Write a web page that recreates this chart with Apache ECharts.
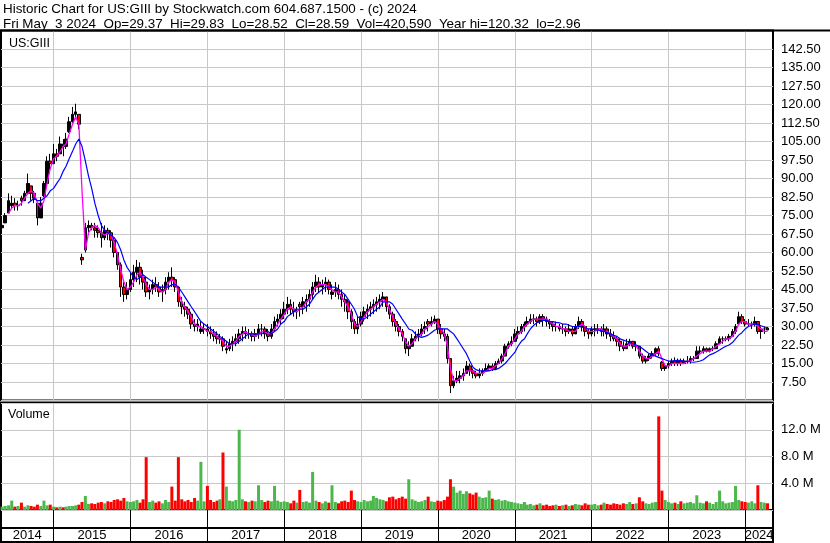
<!DOCTYPE html>
<html><head><meta charset="utf-8">
<script src="https://cdn.jsdelivr.net/npm/echarts@6/dist/echarts.min.js"></script>
<style>html,body{margin:0;padding:0;background:#fff}#c{width:830px;height:543px}</style>
</head><body><div id="c"></div><script>
// semi-monthly periods
const dates = [
'2014-05-01','2014-05-16','2014-06-01','2014-06-16','2014-07-01','2014-07-16','2014-08-01','2014-08-16','2014-09-01','2014-09-16','2014-10-01','2014-10-16','2014-11-01','2014-11-16','2014-12-01','2014-12-16',
'2015-01-01','2015-01-16','2015-02-01','2015-02-16','2015-03-01','2015-03-16','2015-04-01','2015-04-16','2015-05-01','2015-05-16','2015-06-01','2015-06-16','2015-07-01','2015-07-16','2015-08-01','2015-08-16','2015-09-01','2015-09-16','2015-10-01','2015-10-16','2015-11-01','2015-11-16','2015-12-01','2015-12-16',
'2016-01-01','2016-01-16','2016-02-01','2016-02-16','2016-03-01','2016-03-16','2016-04-01','2016-04-16','2016-05-01','2016-05-16','2016-06-01','2016-06-16','2016-07-01','2016-07-16','2016-08-01','2016-08-16','2016-09-01','2016-09-16','2016-10-01','2016-10-16','2016-11-01','2016-11-16','2016-12-01','2016-12-16',
'2017-01-01','2017-01-16','2017-02-01','2017-02-16','2017-03-01','2017-03-16','2017-04-01','2017-04-16','2017-05-01','2017-05-16','2017-06-01','2017-06-16','2017-07-01','2017-07-16','2017-08-01','2017-08-16','2017-09-01','2017-09-16','2017-10-01','2017-10-16','2017-11-01','2017-11-16','2017-12-01','2017-12-16',
'2018-01-01','2018-01-16','2018-02-01','2018-02-16','2018-03-01','2018-03-16','2018-04-01','2018-04-16','2018-05-01','2018-05-16','2018-06-01','2018-06-16','2018-07-01','2018-07-16','2018-08-01','2018-08-16','2018-09-01','2018-09-16','2018-10-01','2018-10-16','2018-11-01','2018-11-16','2018-12-01','2018-12-16',
'2019-01-01','2019-01-16','2019-02-01','2019-02-16','2019-03-01','2019-03-16','2019-04-01','2019-04-16','2019-05-01','2019-05-16','2019-06-01','2019-06-16','2019-07-01','2019-07-16','2019-08-01','2019-08-16','2019-09-01','2019-09-16','2019-10-01','2019-10-16','2019-11-01','2019-11-16','2019-12-01','2019-12-16',
'2020-01-01','2020-01-16','2020-02-01','2020-02-16','2020-03-01','2020-03-16','2020-04-01','2020-04-16','2020-05-01','2020-05-16','2020-06-01','2020-06-16','2020-07-01','2020-07-16','2020-08-01','2020-08-16','2020-09-01','2020-09-16','2020-10-01','2020-10-16','2020-11-01','2020-11-16','2020-12-01','2020-12-16',
'2021-01-01','2021-01-16','2021-02-01','2021-02-16','2021-03-01','2021-03-16','2021-04-01','2021-04-16','2021-05-01','2021-05-16','2021-06-01','2021-06-16','2021-07-01','2021-07-16','2021-08-01','2021-08-16','2021-09-01','2021-09-16','2021-10-01','2021-10-16','2021-11-01','2021-11-16','2021-12-01','2021-12-16',
'2022-01-01','2022-01-16','2022-02-01','2022-02-16','2022-03-01','2022-03-16','2022-04-01','2022-04-16','2022-05-01','2022-05-16','2022-06-01','2022-06-16','2022-07-01','2022-07-16','2022-08-01','2022-08-16','2022-09-01','2022-09-16','2022-10-01','2022-10-16','2022-11-01','2022-11-16','2022-12-01','2022-12-16',
'2023-01-01','2023-01-16','2023-02-01','2023-02-16','2023-03-01','2023-03-16','2023-04-01','2023-04-16','2023-05-01','2023-05-16','2023-06-01','2023-06-16','2023-07-01','2023-07-16','2023-08-01','2023-08-16','2023-09-01','2023-09-16','2023-10-01','2023-10-16','2023-11-01','2023-11-16','2023-12-01','2023-12-16',
'2024-01-01','2024-01-16','2024-02-01','2024-02-16','2024-03-01','2024-03-16','2024-04-01','2024-04-16'
];
const openP = [
70,72,76,79,80,79,82,81,84,87,84,80,74,83,88,97,
96,100,100,104,103,109,113,116,116,58,61,70,71,70,69,68,66,69,68,65,60,55,46,43,
45,49,52,54,50,48,44,45,47,46,44,45,48,50,49,46,40,38,37,35,31,30,28,29,
29,28,27,26,25,25,20.5,21,23,24,25,27,28,27,27,26,27,29,29,27,26,29,32,33,
35,37,39,37,36,39,38,40,41,43,46,48,46,47,48,43,44,45,43,41,40,36,32,29,
31,34,36,37,38,39,40,41,42,38,35,32,30,28,25,21,22,25,26,27,29,32,31,32,
33,29,27,26,17,6,8,9,10,11,14,12,11,10,11,12,13,14,13,15,16,18,22,23,
24,27,28,30,31,32,33,33,32,34,33,32,31,30,30,29,29,28,29,27,30,32,30,28,
27,29,29,29,28,29,27,26,25,24,22,21,23,24,22,22,18,16,17,18,19,21,15.5,13,
14,15,16,15,16,15,16,16,17,17,20,20,21,20,21,21,23,25,25,25,26,28,31,34,
32,31,31,31,32,28,29,29.37
];
const closeP = [
71,75,81,80,79,79,81,84,88,84,82,74,80,88,97,96,
100,99,104,103,106,113,116,117,112,57,70,71,70,69,68,66,69,68,65,60,55,46,43,45,
49,52,54,50,48,44,45,47,46,44,45,48,50,49,46,40,38,37,35,31,30,31,29,29,
28,27,26,25,25,22,21,23,24,25,27,28,27,27,26,27,29,29,27,26,29,32,33,35,
37,39,37,36,36,38,40,41,43,46,48,46,47,48,45,44,45,43,41,40,36,32,29,31,
34,36,37,38,39,40,41,42,38,35,32,30,28,26,21,22,25,26,27,29,30,31,32,33,
29,27,26,17,6,8,9,10,11,14,12,11,10,11,12,13,14,13,15,16,18,22,23,24,
27,28,30,31,32,33,33,32,34,33,32,31,30,30,29,29,28,29,27,30,32,30,28,27,
29,29,29,28,29,27,26,25,24,22,21,23,24,22,22,18,16,17,18,19,21,19,13,14,
15,16,15,16,15,16,16,17,17,20,20,21,20,21,21,23,25,25,25,26,28,30,34,32,
31,31,31,32,28,29,29,28.59
];
const lowP = [
68,72,76,78,77,77,79,81,84,81,80,71,74,82.5,87,93.5,
96,97,100,99,102,108.5,112.6,114,110,55,60,68,69,66,66,62,65,65,62,58,53,42,40,41,
44,46,48,47,45,42,41,43,44,42,40,43,45,46,44,38,35,34,33,29,28,28,27,27,
26,25,24,23,23,20,19,20,20,22,23,24,25,25,24,24,25,26,25,24,25,28,30,31,
33,35,35,34,33,34,35,36,38,41,44,44,43,44,43,41,42,41,38,36,33,29,27,27,
30,32,33,34,35,36,37,38,36,33,30,28,26,24,19,18,22,24,24,26,27,28,30,31,
27,25,24,15,3,5,7,7,8,11,10,9,9,9,10,12,12,12,13,15,15,18,21,22,
24,25,27,28,30,31,31,30,31,30,30,29,28,28,28,27,26,27,26,27,29,28,26,25,
26,26,27,26,26,25,24,24,22,20,20,21,22,21,20,17,15,15,16,17,18,18,12,12,
13,14,14,14,14,15,15,15,16,17,19,19,19.5,19.5,20,21,23,23,24,24,26,27,31,31,
30,30,29,30,27,25,27,28.52
];
const highP = [
74,76,84,83,82,81,83,85,92,87,85,80,82.5,89,99,100,
104,102,107,106,108.5,115,119,120.3,116,59.5,72,73,72,72,71,72,71,70,69,66,60,56,48,48,
52,55,57,56,53,50,47,49,50,48,47,50,52,54,50,46,42,40,38,36,33,33,32,31,
31,30,29,28,27,26,24,25,26,27,29,30,30,29,28,29,31,31,30,29,31,34,35,37,
40,42,41,40,38,40,42,43,45,48,51,50,49,50,49,47,48,47,45,43,41,37,33,34,
36,38,39,40,41,42,43,44,42,39,36,33,31,29,25,24,27,28,29,31,32,33,34,34.5,
33,31,29,27,17,10,12,12,13,16,15,13,12,13,13,15,15,15,16,17,19,23,24,26,
29,30,31,32,34,35,35,34,35,35,34,33,32,32,31,31,30,31,30,31,34,33,30,29,
30,31,31,30,31,30,29,28,26,25,24,25,25,24,24,22,19,18,19,20,21.5,22,16,15,
16,17,17.5,17,17,17,18,18,18,22,22,22,21.5,21.5,22,24,26,26,26,27,29,31,36,35,
33,33,32,34,32,30,30,29.83
];
// short moving average (magenta)
const maShort = [
null,null,76,78,79,79,80,82,84,85,84,80,78,81,88,94,
98,99,101,103,104,108,112,115,112,85,61,68,70,71,70,68,67,68,67,64,59,53,48,45,
46,48,51,52,50,47,45,45,46,45,44,45,48,49,48,44,40,38,36,34,31,30,30,29,
28,28,27,26,25,24,22,22,23,24,26,27,28,27,27,26,27,28,28,27,27,29,31,33,
35,37,38,37,36,37,38,40,41,44,46,47,47,47,46,45,44,44,42,40,38,35,31,30,
32,34,36,37,38,39,40,41,40,37,34,31,29,27,24,22,23,25,26,27,29,30,31,32,
31,29,27,22,13,8,8,9,10,12,12,12,11,11,11,12,13,13,14,15,17,19,22,23,
25,27,28,30,31,32,33,33,33,33,33,32,31,30,30,29,29,28,28,28,30,31,30,28,
28,28,29,29,28,28,27,26,25,23,22,22,23,23,22,20,18,17,17,18,19,20,17,14,
14,15,15,15,15,15,16,16,17,18,19,20,20,20,21,22,23,24,25,25,26,28,31,32,
32,31,31,31,30,29,28,28
];
// long moving average (blue)
const maLong = [
null,null,null,null,null,null,null,null,80,81,82,81,81,82,83,85,
86,88,90,93,95,98,101,104,106,103,97,91,86,80,75,71,69,68,67,66,64,61,57,54,
52,50,49,50,51,50,49,48,47,46,46,46,46,47,47,46,44,42,40,38,36,34,32,31,
30,29,28,27,26,25,24,23,23,23,24,25,26,27,27,27,27,27,28,28,27,28,29,31,
32,34,35,36,37,37,37,38,39,41,43,44,45,46,46,46,46,45,44,43,41,39,37,34,
33,33,34,35,36,37,38,40,40,40,39,37,35,33,31,29,28.5,27,26,25.6,26,26.5,27.5,28.5,
29,29,29,29,28,27,25,23,21,19,16,13.5,12.5,12,12,12,12,12.5,12.5,13,14,15,16.5,18,
19.5,22,24,25,27,29,30.5,31.5,32,32.5,32.5,32,32,31.7,31.5,31,31,30.5,30,30,30,29.7,29.5,29,
29,28.7,28.5,28.2,28,27.5,27,26.4,26,25,24.5,24,23.5,23,22.5,22,21,20,19,18.5,18,17.5,17,16.5,
16,16,16.2,16.3,16.2,16,15.8,15.6,15.5,15.7,16,16.5,17.5,18.5,19,19.7,20.5,21.3,22,22.5,23.5,25,26.5,27.5,
29,30,30.5,31,30.8,30.3,29.8,29.5
];
// volume, millions
const volume = [
0.5,0.6,0.7,1.4,0.5,0.6,1.1,0.5,0.7,0.6,0.5,0.8,0.6,1.4,0.7,0.8,
0.5,0.4,0.5,0.4,0.5,0.6,0.6,0.7,0.8,1.2,2.1,0.9,1.0,0.9,1.1,1.2,1.0,1.3,1.2,1.5,1.6,1.4,1.8,1.3,
1.2,1.3,1.5,1.1,1.6,7.9,1.2,1.4,1.1,1.3,1.0,1.5,1.2,3.5,1.4,7.9,1.6,1.3,1.5,1.2,1.8,1.4,7.2,1.3,
3.6,1.5,1.2,1.4,1.6,8.6,3.5,1.4,1.3,1.5,12,1.6,1.3,1.2,1.4,1.3,3.7,1.5,1.2,1.4,1.3,3.6,1.4,1.2,
1.3,1.2,1.0,1.4,1.1,3.0,1.2,1.3,1.1,5.7,1.4,1.2,1.0,1.3,1.1,3.7,1.2,1.0,1.3,1.4,1.2,2.9,1.5,1.3,
1.2,1.5,1.3,1.4,2.1,1.8,1.6,1.5,1.3,1.9,2.0,1.6,1.8,2.0,1.7,4.6,1.6,1.4,1.2,1.3,1.5,2.0,1.3,1.2,
1.4,1.3,1.5,2.0,4.6,3.5,2.6,2.9,2.4,2.8,2.5,2.3,2.6,2.0,1.8,1.9,2.9,1.7,1.5,1.6,1.4,1.5,1.3,1.2,
1.1,1.0,0.9,1.2,0.8,0.9,0.7,0.8,1.0,0.7,0.8,0.6,0.7,0.8,0.6,0.7,0.8,0.6,0.7,0.9,0.8,0.7,1.0,0.8,
0.8,0.9,0.7,0.8,1.1,0.9,0.8,1.0,0.9,0.8,1.0,0.9,1.2,0.9,1.0,1.9,1.3,1.0,0.9,1.1,1.2,14.0,2.9,1.5,
1.2,1.0,1.1,0.9,1.3,1.0,1.1,1.2,1.0,2.2,1.1,1.0,1.3,1.1,0.9,1.2,2.9,1.3,1.0,1.1,1.2,3.6,1.5,1.3,
1.2,1.1,1.3,1.0,3.7,1.2,1.1,1.0
];
const yearStarts = ['2015-01-01','2016-01-01','2017-01-01','2018-01-01','2019-01-01','2020-01-01','2021-01-01','2022-01-01','2023-01-01','2024-01-01'];
const yearLabelPos = ['2014-08-29','2015-07-02','2016-07-02','2017-07-02','2018-07-02','2019-07-02','2020-07-02','2021-07-02','2022-07-02','2023-07-02','2024-03-07'];
const priceTicks = {min: 0, max: 150, interval: 7.5};
const volTicks = {min: 0, max: 16, interval: 4};

const T = s => Date.parse(s + 'T00:00:00Z');
const X_MIN = T('2014-04-26'), X_MAX = T('2024-05-12');
const FONT = 'Liberation Sans, Arial, sans-serif';
const GRIDC = '#c8c8c8';
const chart = echarts.init(document.getElementById('c'), null, {renderer: 'canvas'});

function xAxisFor(gi, lineColor, extra) {
  return Object.assign({
    type: 'value', gridIndex: gi, min: X_MIN, max: X_MAX, scale: true,
    axisLine: {show: false}, axisTick: {show: false, customValues: yearStarts.map(T)},
    axisLabel: {show: false},
    splitLine: {show: true, lineStyle: {color: lineColor, width: 1}}
  }, extra || {});
}
const gridBase = {left: 1, width: 772, show: true, borderColor: '#000', borderWidth: 2, backgroundColor: 'transparent', containLabel: false, outerBoundsMode: 'none'};
const headStyle = {fontSize: 13.4, fontWeight: 'normal', color: '#000', fontFamily: FONT};

const option = {
  animation: false,
  backgroundColor: '#fff',
  textStyle: {fontFamily: FONT},
  title: [
    {text: 'Historic Chart for US:GIII by Stockwatch.com 604.687.1500 - (c) 2024', left: 3, top: 3, padding: 0, textStyle: headStyle},
    {text: 'Fri May  3 2024  Op=29.37  Hi=29.83  Lo=28.52  Cl=28.59  Vol=420,590  Year hi=120.32  lo=2.96', left: 3, top: 18, padding: 0, textStyle: headStyle},
    {text: 'US:GIII', left: 9, top: 37, padding: 0, textStyle: {fontSize: 12.5, fontWeight: 'normal', color: '#000', fontFamily: FONT}},
    {text: 'Volume', left: 8, top: 408.5, padding: 0, textStyle: {fontSize: 12.5, fontWeight: 'normal', color: '#000', fontFamily: FONT}}
  ],
  graphic: [
    {type: 'line', shape: {x1: 0, y1: 30.5, x2: 830, y2: 30.5}, style: {stroke: '#000', lineWidth: 2}, z: 100}
  ],
  grid: [
    Object.assign({}, gridBase, {top: 30.5, height: 370}),
    Object.assign({}, gridBase, {top: 403, height: 107}),
    Object.assign({}, gridBase, {top: 510, height: 18}),
    Object.assign({}, gridBase, {top: 528, height: 14})
  ],
  xAxis: [
    xAxisFor(0, GRIDC),
    xAxisFor(1, GRIDC),
    xAxisFor(2, '#000'),
    xAxisFor(3, '#000', {position: 'top',
      axisLabel: {show: true, inside: true, margin: 1, customValues: yearLabelPos.map(T), fontSize: 13, color: '#000', fontFamily: FONT,
        align: 'center', verticalAlign: 'top',
        formatter: function (v) { return String(new Date(v).getUTCFullYear()); }}})
  ],
  yAxis: [
    {type: 'value', gridIndex: 0, position: 'right', min: priceTicks.min, max: priceTicks.max, interval: priceTicks.interval,
     axisLine: {show: false}, axisTick: {show: false},
     axisLabel: {show: true, margin: 8, fontSize: 13, color: '#000', fontFamily: FONT, align: 'left', showMinLabel: false, showMaxLabel: false,
       formatter: function (v) { return v.toFixed(2); }},
     splitLine: {show: true, lineStyle: {color: GRIDC, width: 1}}},
    {type: 'value', gridIndex: 1, position: 'right', min: volTicks.min, max: volTicks.max, interval: volTicks.interval,
     axisLine: {show: false}, axisTick: {show: false},
     axisLabel: {show: true, margin: 8, fontSize: 13, color: '#000', fontFamily: FONT, align: 'left', showMinLabel: false, showMaxLabel: false,
       formatter: function (v) { return v.toFixed(1) + ' M'; }},
     splitLine: {show: true, lineStyle: {color: GRIDC, width: 1}}},
    {type: 'value', gridIndex: 2, show: false, splitLine: {show: false}},
    {type: 'value', gridIndex: 3, show: false, splitLine: {show: false}}
  ],
  series: [
    {type: 'candlestick', xAxisIndex: 0, yAxisIndex: 0, barWidth: 3,
     encode: {x: 0, y: [1, 2, 3, 4]},
     data: dates.map((d, i) => [T(d), openP[i], closeP[i], lowP[i], highP[i]]),
     itemStyle: {color: '#000', color0: '#ff0000', borderColor: '#000', borderColor0: '#000', borderWidth: 1}},
    {type: 'line', xAxisIndex: 0, yAxisIndex: 0, showSymbol: false, symbol: 'none', connectNulls: false,
     data: dates.map((d, i) => [T(d), maShort[i]]), lineStyle: {color: '#ff00ff', width: 1.3}, itemStyle: {color: '#ff00ff'}},
    {type: 'line', xAxisIndex: 0, yAxisIndex: 0, showSymbol: false, symbol: 'none', connectNulls: false,
     data: dates.map((d, i) => [T(d), maLong[i]]), lineStyle: {color: '#0000ff', width: 1.2}, itemStyle: {color: '#0000ff'}},
    {type: 'bar', xAxisIndex: 1, yAxisIndex: 1, barWidth: 3,
     data: dates.map((d, i) => ({value: [T(d), volume[i]], itemStyle: {color: closeP[i] >= openP[i] ? '#4cb84c' : '#ff0000'}}))}
  ]
};
chart.setOption(option);
</script></body></html>
